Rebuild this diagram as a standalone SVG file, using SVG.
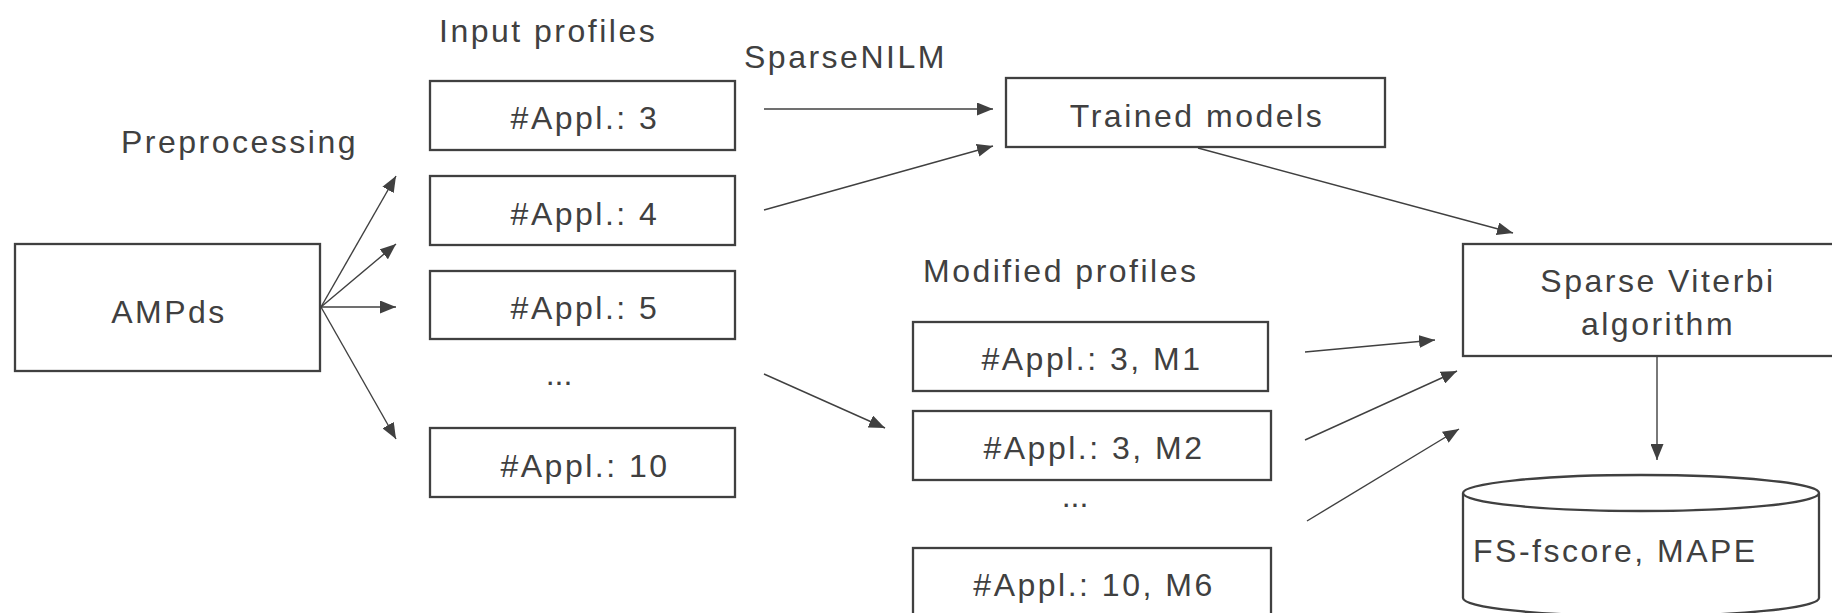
<svg xmlns="http://www.w3.org/2000/svg" width="1832" height="613" viewBox="0 0 1832 613">
  <style>
    .box { fill: #ffffff; stroke: #404040; stroke-width: 2.3; }
    .lbl { font-family: "Liberation Sans", Arial, sans-serif; font-size: 32px; letter-spacing: 2.5px; fill: #404040; }
    .mid { text-anchor: middle; }
    .dots { letter-spacing: 0px; }
    .edge { stroke: #404040; stroke-width: 1.4; fill: none; marker-end: url(#arrow); }
  </style>
  <defs>
    <marker id="arrow" markerUnits="userSpaceOnUse" markerWidth="16" markerHeight="13" refX="16" refY="6.5" orient="auto">
      <path d="M0,0 L16,6.5 L0,13 z" fill="#404040"/>
    </marker>
  </defs>
  <rect width="1832" height="613" fill="#ffffff"/>

  <!-- free-standing labels -->
  <text class="lbl" x="439" y="42">Input profiles</text>
  <text class="lbl" x="121" y="153">Preprocessing</text>
  <text class="lbl" x="744" y="68">SparseNILM</text>
  <text class="lbl" x="923" y="282">Modified profiles</text>
  <text class="lbl mid dots" x="559" y="385">...</text>
  <text class="lbl mid dots" x="1075" y="507">...</text>

  <g id="ampds">
    <rect class="box" x="15" y="244" width="305" height="127"/>
    <text class="lbl mid" x="169" y="323">AMPds</text>
  </g>

  <g id="input-3">
    <rect class="box" x="430" y="81" width="305" height="69"/>
    <text class="lbl mid" x="585" y="129">#Appl.: 3</text>
  </g>
  <g id="input-4">
    <rect class="box" x="430" y="176" width="305" height="69"/>
    <text class="lbl mid" x="585" y="225">#Appl.: 4</text>
  </g>
  <g id="input-5">
    <rect class="box" x="430" y="271" width="305" height="68"/>
    <text class="lbl mid" x="585" y="319">#Appl.: 5</text>
  </g>
  <g id="input-10">
    <rect class="box" x="430" y="428" width="305" height="69"/>
    <text class="lbl mid" x="585" y="477">#Appl.: 10</text>
  </g>

  <g id="trained-models">
    <rect class="box" x="1006" y="78" width="379" height="69"/>
    <text class="lbl mid" x="1197" y="127">Trained models</text>
  </g>

  <g id="mod-3-m1">
    <rect class="box" x="913" y="322" width="355" height="69"/>
    <text class="lbl mid" x="1092" y="370">#Appl.: 3, M1</text>
  </g>
  <g id="mod-3-m2">
    <rect class="box" x="913" y="411" width="358" height="69"/>
    <text class="lbl mid" x="1094" y="459">#Appl.: 3, M2</text>
  </g>
  <g id="mod-10-m6">
    <rect class="box" x="913" y="548" width="358" height="69"/>
    <text class="lbl mid" x="1094" y="596">#Appl.: 10, M6</text>
  </g>

  <g id="sparse-viterbi">
    <rect class="box" x="1463" y="244" width="390" height="112"/>
    <text class="lbl mid" x="1658" y="292">Sparse Viterbi</text>
    <text class="lbl mid" x="1658" y="335">algorithm</text>
  </g>

  <g id="results">
    <path class="box" d="M1463,493 L1463,598 A178,18 0 0 0 1819,598 L1819,493 A178,18 0 0 0 1463,493 A178,18 0 0 0 1819,493"/>
    <text class="lbl" x="1473" y="562">FS-fscore, MAPE</text>
  </g>

  <g id="connectors">
    <line class="edge" x1="321" y1="307" x2="396" y2="176"/>
    <line class="edge" x1="321" y1="307" x2="396" y2="244"/>
    <line class="edge" x1="321" y1="307" x2="396" y2="307"/>
    <line class="edge" x1="321" y1="307" x2="396" y2="439"/>
    <line class="edge" x1="764" y1="109" x2="993" y2="109"/>
    <line class="edge" x1="764" y1="210" x2="993" y2="146"/>
    <line class="edge" x1="764" y1="374" x2="885" y2="428"/>
    <line class="edge" x1="1198" y1="148" x2="1513" y2="233"/>
    <line class="edge" x1="1305" y1="352" x2="1435" y2="340"/>
    <line class="edge" x1="1305" y1="440" x2="1457" y2="371"/>
    <line class="edge" x1="1307" y1="521" x2="1459" y2="429"/>
    <line class="edge" x1="1657" y1="356" x2="1657" y2="460"/>
  </g>
</svg>
